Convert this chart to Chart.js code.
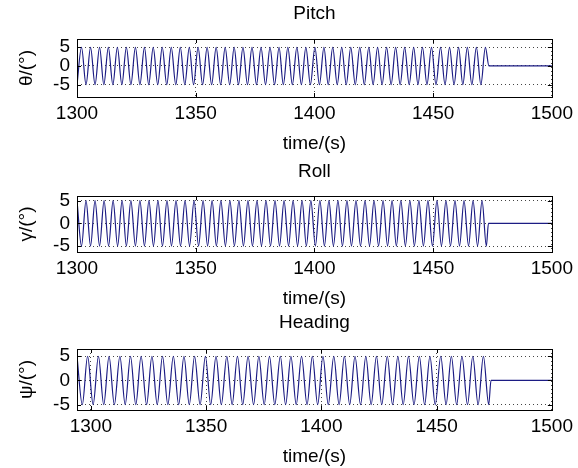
<!DOCTYPE html>
<html>
<head>
<meta charset="utf-8">
<script src="https://cdn.jsdelivr.net/npm/chart.js@4/dist/chart.umd.min.js"></script>
<style>
  body{margin:0;background:#fff;width:578px;height:468px;overflow:hidden;position:relative}
  canvas{position:absolute;left:0}
</style>
</head>
<body>
<canvas id="pitch" width="578" height="155" style="top:0"></canvas>
<canvas id="roll" width="578" height="155" style="top:155px"></canvas>
<canvas id="heading" width="578" height="158" style="top:310px"></canvas>
<script>
const pitchTime=[1300.0,1301.9,1303.8,1305.7,1307.6,1309.5,1311.3,1313.2,1315.1,1317.0,
  1318.9,1320.8,1322.7,1324.6,1326.5,1328.4,1330.2,1332.1,1334.0,1335.9,
  1337.8,1339.7,1341.6,1343.5,1345.4,1347.3,1349.1,1351.0,1352.9,1354.8,
  1356.7,1358.6,1360.5,1362.4,1364.3,1366.2,1368.0,1369.9,1371.8,1373.7,
  1375.6,1377.5,1379.4,1381.3,1383.2,1385.1,1386.9,1388.8,1390.7,1392.6,
  1394.5,1396.4,1398.3,1400.2,1402.1,1404.0,1405.8,1407.7,1409.6,1411.5,
  1413.4,1415.3,1417.2,1419.1,1421.0,1422.9,1424.7,1426.6,1428.5,1430.4,
  1432.3,1434.2,1436.1,1438.0,1439.9,1441.8,1443.6,1445.5,1447.4,1449.3,
  1451.2,1453.1,1455.0,1456.9,1458.8,1460.7,1462.5,1464.4,1466.3,1468.2,
  1470.1,1472.0,1473.5,1500]
const pitchValue=[-5,5,-5,5,-5,5,-5,5,-5,5,
  -5,5,-5,5,-5,5,-5,5,-5,5,
  -5,5,-5,5,-5,5,-5,5,-5,5,
  -5,5,-5,5,-5,5,-5,5,-5,5,
  -5,5,-5,5,-5,5,-5,5,-5,5,
  -5,5,-5,5,-5,5,-5,5,-5,5,
  -5,5,-5,5,-5,5,-5,5,-5,5,
  -5,5,-5,5,-5,5,-5,5,-5,5,
  -5,5,-5,5,-5,5,-5,5,-5,5,
  -5,5,0,0]

const rollTime=[1300.0,1301.9,1303.8,1305.7,1307.6,1309.5,1311.4,1313.3,1315.2,1317.1,
  1319.0,1320.8,1322.7,1324.6,1326.5,1328.4,1330.3,1332.2,1334.1,1336.0,
  1337.9,1339.8,1341.7,1343.6,1345.5,1347.4,1349.3,1351.2,1353.1,1355.0,
  1356.9,1358.7,1360.6,1362.5,1364.4,1366.3,1368.2,1370.1,1372.0,1373.9,
  1375.8,1377.7,1379.6,1381.5,1383.4,1385.3,1387.2,1389.1,1391.0,1392.9,
  1394.8,1396.6,1398.5,1400.4,1402.3,1404.2,1406.1,1408.0,1409.9,1411.8,
  1413.7,1415.6,1417.5,1419.4,1421.3,1423.2,1425.1,1427.0,1428.9,1430.8,
  1432.7,1434.5,1436.4,1438.3,1440.2,1442.1,1444.0,1445.9,1447.8,1449.7,
  1451.6,1453.5,1455.4,1457.3,1459.2,1461.1,1463.0,1464.9,1466.8,1468.7,
  1470.6,1472.4,1473.3,1500]
const rollValue=[5,-5,5,-5,5,-5,5,-5,5,-5,
  5,-5,5,-5,5,-5,5,-5,5,-5,
  5,-5,5,-5,5,-5,5,-5,5,-5,
  5,-5,5,-5,5,-5,5,-5,5,-5,
  5,-5,5,-5,5,-5,5,-5,5,-5,
  5,-5,5,-5,5,-5,5,-5,5,-5,
  5,-5,5,-5,5,-5,5,-5,5,-5,
  5,-5,5,-5,5,-5,5,-5,5,-5,
  5,-5,5,-5,5,-5,5,-5,5,-5,
  5,-5,0,0]

const headingTime=[1294.0,1296.3,1298.6,1301.0,1303.3,1305.6,1307.9,1310.2,1312.6,1314.9,
  1317.2,1319.5,1321.8,1324.2,1326.5,1328.8,1331.1,1333.4,1335.8,1338.1,
  1340.4,1342.7,1345.0,1347.4,1349.7,1352.0,1354.3,1356.6,1359.0,1361.3,
  1363.6,1365.9,1368.2,1370.6,1372.9,1375.2,1377.5,1379.8,1382.2,1384.5,
  1386.8,1389.1,1391.4,1393.8,1396.1,1398.4,1400.7,1403.0,1405.4,1407.7,
  1410.0,1412.3,1414.6,1417.0,1419.3,1421.6,1423.9,1426.2,1428.6,1430.9,
  1433.2,1435.5,1437.8,1440.2,1442.5,1444.8,1447.1,1449.4,1451.8,1454.1,
  1456.4,1458.7,1461.0,1463.4,1465.7,1468.0,1470.3,1472.6,1473.6,1500]
const headingValue=[5,-5,5,-5,5,-5,5,-5,5,-5,
  5,-5,5,-5,5,-5,5,-5,5,-5,
  5,-5,5,-5,5,-5,5,-5,5,-5,
  5,-5,5,-5,5,-5,5,-5,5,-5,
  5,-5,5,-5,5,-5,5,-5,5,-5,
  5,-5,5,-5,5,-5,5,-5,5,-5,
  5,-5,5,-5,5,-5,5,-5,5,-5,
  5,-5,5,-5,5,-5,5,-5,0,0]

const xTicks=[1300,1350,1400,1450,1500]
const yTicks=[-5,0,5]

const FONT='"Liberation Sans", Arial, sans-serif'

// matlab style box + inward ticks
const boxPlugin={
  id:'box',
  afterDraw(chart){
    const {ctx,chartArea:a,scales}=chart
    ctx.save()
    ctx.strokeStyle='#000'
    ctx.lineWidth=1
    ctx.strokeRect(Math.round(a.left)+0.5,Math.round(a.top)+0.5,Math.round(a.width),Math.round(a.height))
    ctx.beginPath()
    xTicks.forEach(v=>{
      const x=Math.round(scales.x.getPixelForValue(v))+0.5
      ctx.moveTo(x,a.bottom);ctx.lineTo(x,a.bottom-4)
      ctx.moveTo(x,a.top);ctx.lineTo(x,a.top+4)
    })
    yTicks.forEach(v=>{
      const y=Math.round(scales.y.getPixelForValue(v))+0.5
      ctx.moveTo(a.left,y);ctx.lineTo(a.left+4,y)
      ctx.moveTo(a.right,y);ctx.lineTo(a.right-4,y)
    })
    ctx.stroke()
    ctx.restore()
  }
}

function subplot(id,title,ylabel,time,value,xMin,yMin,yMax,tPad,topH){
  new Chart(document.getElementById(id),{
    type:'line',
    data:{datasets:[{
      data:time.map((t,i)=>({x:t,y:value[i]})),
      borderColor:'#1c1c84',
      borderWidth:1.2,
      pointRadius:0,
      cubicInterpolationMode:'monotone',
      fill:false
    }]},
    options:{
      responsive:false,
      animation:false,
      layout:{padding:{left:0,right:25,top:0,bottom:0}},
      plugins:{
        legend:{display:false},
        tooltip:{enabled:false}
      },
      scales:{
        // top axis only carries the subplot title so it centres over the box
        top:{type:'linear',position:'top',min:xMin,max:1500,
          afterFit:s=>{s.height=topH},
          grid:{display:false,drawTicks:false},border:{display:false},
          ticks:{display:false},
          title:{display:true,text:title,color:'#000',padding:{top:tPad,bottom:0},
            font:{family:FONT,size:19}}
        },
        x:{type:'linear',min:xMin,max:1500,
          afterBuildTicks:s=>{s.ticks=xTicks.map(v=>({value:v}))},
          afterFit:s=>{s.height=58},
          grid:{color:'#444',drawTicks:false,lineWidth:1},
          border:{display:false,dash:[1,3]},
          ticks:{color:'#000',padding:5,maxRotation:0,autoSkip:false,font:{family:FONT,size:19},
            callback:v=>String(v)},
          title:{display:true,text:'time/(s)',color:'#000',padding:{top:0,bottom:0},
            font:{family:FONT,size:19}}
        },
        y:{min:yMin,max:yMax,
          afterBuildTicks:s=>{s.ticks=yTicks.map(v=>({value:v}))},
          afterFit:s=>{s.width=77},
          grid:{color:'#444',drawTicks:false,lineWidth:1},
          border:{display:false,dash:[1,3]},
          ticks:{color:'#000',padding:7,autoSkip:false,font:{family:FONT,size:19},
            callback:v=>String(v)},
          title:{display:true,text:ylabel,color:'#000',padding:{top:15,bottom:0},
            font:{family:FONT,size:19}}
        }
      }
    },
    plugins:[boxPlugin]
  })
}

subplot('pitch','Pitch','θ/(°)',pitchTime,pitchValue,1300,-8.3,7.2,2.6,39)
subplot('roll','Roll','γ/(°)',rollTime,rollValue,1300,-6.3,6,5,41)
subplot('heading','Heading','ψ/(°)',headingTime,headingValue,1294,-6.1,6.5,1.6,39)
</script>
</body>
</html>
